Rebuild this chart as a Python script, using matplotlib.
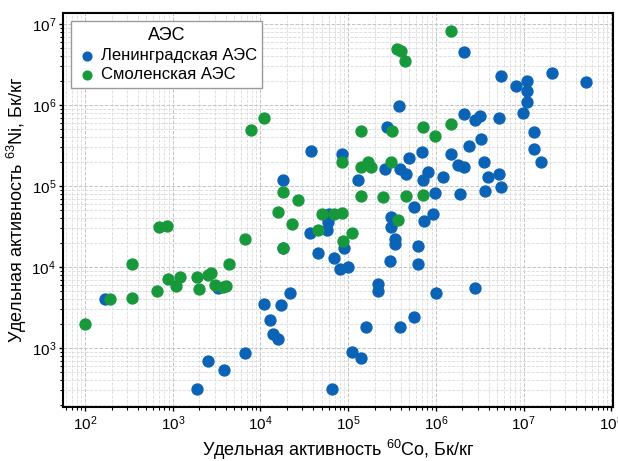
import matplotlib
matplotlib.use('Agg')
import matplotlib.pyplot as plt
from matplotlib.ticker import LogLocator, NullFormatter

plt.rcParams['font.family'] = ['Liberation Sans', 'DejaVu Sans']
plt.rcParams['mathtext.fontset'] = 'custom'
plt.rcParams['mathtext.rm'] = 'Liberation Sans'
plt.rcParams['mathtext.it'] = 'Liberation Sans'

# Ленинградская АЭС: 60Co, 63Ni (Бк/кг)
len_co = [1.7e2, 3.3e3, 6.6e3, 2.5e3, 3.8e3, 1.9e3, 1.1e4, 1.7e4, 2.2e4, 1.3e4,
          1.4e4, 1.6e4, 6.5e4, 3.7e4, 4.5e4, 6.9e4, 8.0e4, 9.9e4, 8.9e4, 5.7e4,
          5.9e4, 6.0e4, 1.8e4, 1.1e5, 1.4e5, 2.2e5, 2.2e5, 1.6e5, 3.9e5, 5.6e5,
          3.1e5, 3.1e5, 3.4e5, 3.4e5, 3.0e5, 6.2e5, 6.2e5, 5.7e5, 7.4e5, 9.2e5,
          1.0e6, 2.8e6, 3.8e5, 2.8e5, 3.8e4, 8.5e4, 1.8e4, 1.3e5, 2.6e5, 3.9e5,
          4.6e5, 5.0e5, 6.9e5, 8.1e5, 7.1e5, 2.1e6, 5.5e6, 2.1e7, 5.2e7, 1.1e7,
          8.3e6, 1.1e7, 1.1e7, 9.8e6, 2.1e6, 3.2e6, 2.8e6, 5.2e6, 1.3e7, 1.3e7,
          1.6e7, 3.3e6, 2.4e6, 1.5e6, 3.5e6, 3.9e6, 5.3e6, 5.6e6, 3.6e6, 1.8e6,
          2.1e6, 1.9e6, 1.2e6, 9.7e5]
len_ni = [4.0e3, 5.5e3, 8.7e2, 6.9e2, 5.3e2, 3.1e2, 3.5e3, 3.4e3, 4.8e3, 2.2e3,
          1.5e3, 1.3e3, 3.1e2, 2.6e4, 1.5e4, 1.3e4, 9.4e3, 1.0e4, 1.7e4, 2.9e4,
          3.6e4, 4.5e4, 1.7e4, 8.9e2, 7.5e2, 6.2e3, 5.0e3, 1.8e3, 1.8e3, 2.4e3,
          4.1e4, 3.1e4, 2.2e4, 1.9e4, 1.2e4, 1.8e4, 1.1e4, 5.5e4, 3.7e4, 4.5e4,
          4.8e3, 5.5e3, 9.7e5, 5.3e5, 2.7e5, 2.5e5, 1.2e5, 1.2e5, 1.6e5, 1.6e5,
          1.4e5, 2.2e5, 2.6e5, 1.5e5, 1.2e5, 4.5e6, 2.3e6, 2.5e6, 1.9e6, 2.0e6,
          1.7e6, 1.5e6, 1.1e6, 8.0e5, 7.7e5, 7.3e5, 6.5e5, 6.9e5, 4.6e5, 2.9e5,
          2.0e5, 3.8e5, 3.1e5, 2.5e5, 2.0e5, 1.3e5, 1.4e5, 9.7e4, 8.7e4, 1.8e5,
          1.7e5, 8.0e4, 1.3e5, 8.2e4]

# Смоленская АЭС
smol_co = [1.0e2, 1.9e2, 3.4e2, 3.4e2, 7.0e2, 8.6e2, 6.6e2, 8.8e2, 1.2e3, 1.1e3,
           1.9e3, 2.0e3, 2.5e3, 2.7e3, 3.0e3, 3.7e3, 4.0e3, 4.4e3, 6.6e3, 7.8e3,
           1.1e4, 1.8e4, 2.7e4, 1.6e4, 2.3e4, 5.0e4, 4.5e4, 6.9e4, 8.5e4, 1.1e5,
           8.7e4, 1.8e4, 3.7e5, 1.4e5, 3.2e5, 7.1e5, 3.6e5, 4.0e5, 4.4e5, 8.5e4,
           1.4e5, 1.7e5, 1.8e5, 3.1e5, 1.4e5, 2.5e5, 4.6e5, 7.1e5, 1.5e6, 1.5e6,
           9.7e5]
smol_ni = [2.0e3, 4.0e3, 4.1e3, 1.1e4, 3.1e4, 3.2e4, 5.1e3, 7.1e3, 7.5e3, 5.8e3,
           7.5e3, 5.3e3, 8.0e3, 8.4e3, 6.0e3, 5.7e3, 5.8e3, 1.1e4, 2.2e4, 4.9e5,
           6.9e5, 8.4e4, 6.7e4, 4.8e4, 3.4e4, 4.5e4, 2.9e4, 4.5e4, 4.6e4, 2.6e4,
           2.1e4, 1.7e4, 3.8e4, 4.8e5, 4.8e5, 5.3e5, 4.9e6, 4.6e6, 3.5e6, 2.0e5,
           1.7e5, 2.0e5, 1.7e5, 2.0e5, 7.5e4, 7.3e4, 7.5e4, 7.7e4, 8.2e6, 5.8e5,
           4.1e5]

fig = plt.figure(figsize=(6.18, 4.61), dpi=100)
ax = fig.add_axes([0.102, 0.117, 0.890, 0.855])

ax.scatter(len_co, len_ni, s=62, color='#0b63b6', label='Ленинградская АЭС', zorder=3)
ax.scatter(smol_co, smol_ni, s=62, color='#17993b', label='Смоленская АЭС', zorder=3)

ax.set_xscale('log')
ax.set_yscale('log')
ax.set_xlim(56, 1.05e8)
ax.set_ylim(187, 1.37e7)

ax.xaxis.set_major_locator(LogLocator(base=10, numticks=20))
ax.yaxis.set_major_locator(LogLocator(base=10, numticks=20))
ax.xaxis.set_minor_locator(LogLocator(base=10, subs=range(2, 10), numticks=100))
ax.yaxis.set_minor_locator(LogLocator(base=10, subs=range(2, 10), numticks=100))
ax.xaxis.set_minor_formatter(NullFormatter())
ax.yaxis.set_minor_formatter(NullFormatter())

ax.grid(True, which='major', linestyle='--', color='#c4c4c4', linewidth=0.7)
ax.grid(True, which='minor', linestyle='--', color='#dadada', linewidth=0.6)
ax.set_axisbelow(True)

for sp in ax.spines.values():
    sp.set_linewidth(1.5)
    sp.set_color('black')

ax.tick_params(which='major', direction='out', length=3, width=1, labelsize=11, pad=2)
ax.tick_params(which='minor', direction='out', length=2, width=0.8)

ax.set_xlabel(r'Удельная активность $^{60}$Co, Бк/кг', fontsize=13, labelpad=4)
ax.set_ylabel(r'Удельная активность $^{63}$Ni, Бк/кг', fontsize=13, labelpad=2)

leg = ax.legend(title='АЭС', loc='upper left', fontsize=12, title_fontsize=13,
                handletextpad=0.2, borderpad=0.35, labelspacing=0.25,
                handlelength=1.2, framealpha=1, edgecolor='#999999',
                fancybox=False, markerscale=0.8)

plt.savefig('out.png', dpi=100)
